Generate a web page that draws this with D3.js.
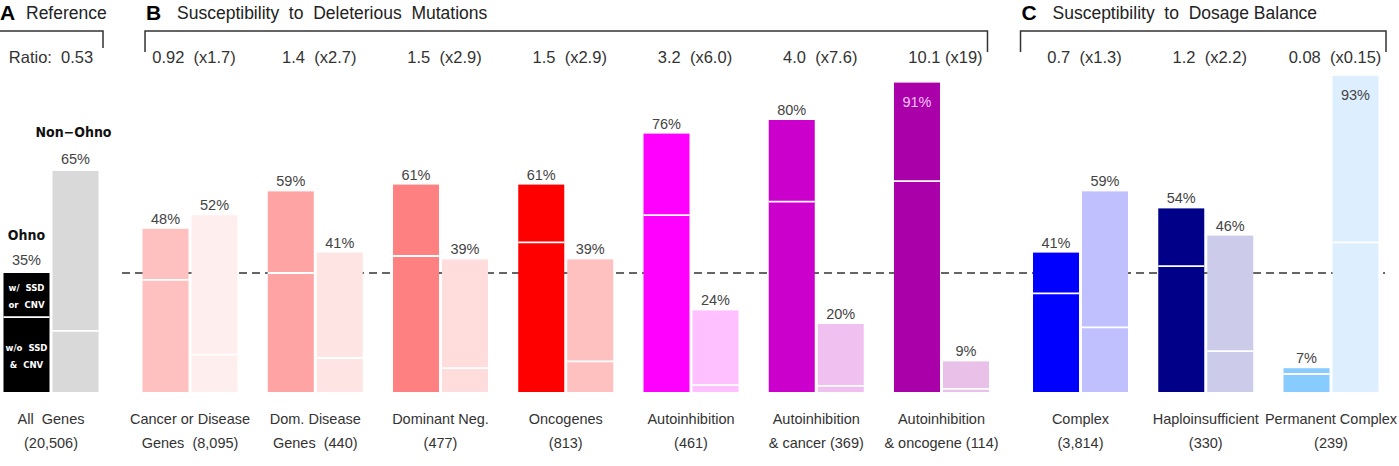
<!DOCTYPE html>
<html>
<head>
<meta charset="utf-8">
<script src="https://cdn.jsdelivr.net/npm/d3@7"></script>
<style>
  body { margin: 0; background: #fff; }
  text { font-family: "Liberation Sans", Arial, sans-serif; white-space: pre; }
</style>
</head>
<body>
<div id="main"></div>
<script>
const W = 1399, H = 466;

// categories (two label lines) and panel of each
const labelTop = ["All  Genes", "Cancer or Disease", "Dom. Disease", "Dominant Neg.", "Oncogenes",
    "Autoinhibition", "Autoinhibition", "Autoinhibition", "Complex", "Haploinsufficient", "Permanent Complex"];
const labelBottom = ["(20,506)", "Genes  (8,095)", "Genes  (440)", "(477)", "(813)",
    "(461)", "& cancer (369)", "& oncogene (114)", "(3,814)", "(330)", "(239)"];
const panelOf = ["A", "B", "B", "B", "B", "B", "B", "B", "C", "C", "C"];
const ratioLabels = ["Ratio:  0.53", "0.92  (x1.7)", "1.4  (x2.7)", "1.5  (x2.9)", "1.5  (x2.9)",
    "3.2  (x6.0)", "4.0  (x7.6)", "10.1 (x19)", "0.7  (x1.3)", "1.2  (x2.2)", "0.08  (x0.15)"];

// percent of Ohno / non-Ohno genes, and the part without SSD & CNV (lower segment)
const ohnoPct = [35, 48, 59, 61, 61, 76, 80, 91, 41, 54, 7];
const nonOhnoPct = [65, 52, 41, 39, 39, 24, 20, 9, 59, 46, 93];
const ohnoNoSsd = [22, 33, 35, 40, 44, 52, 56, 62, 29, 37, 5.3];
const nonOhnoNoSsd = [18, 11, 10, 7, 9, 2, 1.8, 0.9, 19, 12, 44];

const ohnoColors = ["#000000", "#ffc0c0", "#ffa4a4", "#ff8080", "#ff0000", "#ff00ff", "#cc00cc", "#aa00aa", "#0000ff", "#000088", "#88ccff"];
const nonOhnoColors = ["#d9d9d9", "#ffeeee", "#ffe4e4", "#ffdddd", "#ffc0c0", "#ffc0ff", "#f0c0f0", "#e8c0e8", "#c0c0ff", "#ccccea", "#ddeeff"];

const panels = ["A", "B", "C"];
const panelTitles = ["Reference", "Susceptibility  to  Deleterious  Mutations", "Susceptibility  to  Dosage Balance"];
const REF_LINE = 35;

const BAR_W = 46, GAP = 3;
const NARROW = "'Liberation Sans Narrow', 'DejaVu Sans Condensed', sans-serif";

const svg = d3.select("#main").append("svg").attr("width", W).attr("height", H);

// position of a group: index plus an extra gap per panel
const slot = i => i + 0.11 * panels.indexOf(panelOf[i]);
const x = d3.scaleLinear().domain([slot(0), slot(10)]).range([51, 1331]);
const y = d3.scaleLinear().domain([0, 100]).range([392, 52]);

const groups = d3.range(labelTop.length).map(i => ({
    i: i, cx: x(slot(i)),
    ohno: ohnoPct[i], non: nonOhnoPct[i],
    ohnoLow: ohnoNoSsd[i], nonLow: nonOhnoNoSsd[i]
}));

// dashed reference line (behind bars)
svg.append("line")
    .attr("x1", x(slot(1)) - 68).attr("x2", x(slot(10)) + 54)
    .attr("y1", y(REF_LINE)).attr("y2", y(REF_LINE))
    .attr("stroke", "#333").attr("stroke-width", 1.5)
    .attr("stroke-dasharray", "8,5");

const g = svg.selectAll("g.grp").data(groups).enter().append("g").attr("class", "grp");

// ohno bars
g.append("rect")
    .attr("x", d => d.cx - GAP / 2 - BAR_W)
    .attr("y", d => y(d.ohno))
    .attr("width", BAR_W)
    .attr("height", d => y(0) - y(d.ohno))
    .attr("fill", d => ohnoColors[d.i]);
g.append("rect")
    .attr("x", d => d.cx + GAP / 2)
    .attr("y", d => y(d.non))
    .attr("width", BAR_W)
    .attr("height", d => y(0) - y(d.non))
    .attr("fill", d => nonOhnoColors[d.i]);

// white separators between lower and upper segments
g.append("line")
    .attr("x1", d => d.cx - GAP / 2 - BAR_W).attr("x2", d => d.cx - GAP / 2)
    .attr("y1", d => y(d.ohnoLow)).attr("y2", d => y(d.ohnoLow))
    .attr("stroke", "#fff").attr("stroke-width", 1.8);
g.append("line")
    .attr("x1", d => d.cx + GAP / 2).attr("x2", d => d.cx + GAP / 2 + BAR_W)
    .attr("y1", d => y(d.nonLow)).attr("y2", d => y(d.nonLow))
    .attr("stroke", "#fff").attr("stroke-width", 1.8);

// percent labels
const pctFont = 14.5;
g.filter(d => d.i > 0).append("text")
    .attr("x", d => d.cx - GAP / 2 - BAR_W / 2)
    .attr("y", d => d.ohno > 85 ? y(d.ohno) + 24 : y(d.ohno) - 5)
    .attr("text-anchor", "middle")
    .attr("font-size", pctFont)
    .attr("fill", d => d.ohno > 85 ? "#f4c4f4" : "#444")
    .text(d => d.ohno + "%");
g.filter(d => d.i > 0).append("text")
    .attr("x", d => d.cx + GAP / 2 + BAR_W / 2)
    .attr("y", d => d.non > 85 ? y(d.non) + 24 : y(d.non) - 5)
    .attr("text-anchor", "middle")
    .attr("font-size", pctFont)
    .attr("fill", "#444")
    .text(d => d.non + "%");

// reference group labels (panel A)
const a = groups[0];
const aL = a.cx - GAP / 2 - BAR_W / 2, aR = a.cx + GAP / 2 + BAR_W / 2;
svg.append("text").attr("x", aR).attr("y", y(a.non) - 7).attr("text-anchor", "middle")
    .attr("font-size", pctFont).attr("fill", "#444").text(a.non + "%");
svg.append("text").attr("x", aR - 2).attr("y", y(a.non) - 34).attr("text-anchor", "middle")
    .attr("font-size", 14).attr("font-weight", "bold")
    .style("font-family", NARROW)
    .attr("fill", "#111").text("Non\u2212Ohno");
svg.append("text").attr("x", aL).attr("y", y(a.ohno) - 8).attr("text-anchor", "middle")
    .attr("font-size", pctFont).attr("fill", "#444").text(a.ohno + "%");
svg.append("text").attr("x", aL).attr("y", y(a.ohno) - 33).attr("text-anchor", "middle")
    .attr("font-size", 14).attr("font-weight", "bold")
    .style("font-family", NARROW)
    .attr("fill", "#111").text("Ohno");
const inner = [["w/  SSD", "or  CNV"], ["w/o  SSD", "&  CNV"]];
const innerMid = [(a.ohno + a.ohnoLow) / 2, a.ohnoLow / 2];
inner.forEach((lines, k) => {
    lines.forEach((s, j) => {
        svg.append("text").attr("x", aL).attr("y", y(innerMid[k]) + (j === 0 ? -4 : 13))
            .attr("text-anchor", "middle").attr("font-size", 9.5).attr("font-weight", "bold")
            .style("font-family", NARROW)
            .attr("fill", "#fff").text(s);
    });
});

// category labels under bars
g.append("text").attr("x", d => d.cx).attr("y", 424).attr("text-anchor", "middle")
    .attr("font-size", 14.5).attr("fill", "#333").text(d => labelTop[d.i]);
g.append("text").attr("x", d => d.cx).attr("y", 448).attr("text-anchor", "middle")
    .attr("font-size", 14.5).attr("fill", "#333").text(d => labelBottom[d.i]);

// ratio labels
g.append("text").attr("x", d => d.cx + (d.i === 0 ? 0 : 4)).attr("y", 63).attr("text-anchor", "middle")
    .attr("font-size", 16.5).attr("fill", "#333").text(d => ratioLabels[d.i]);

// panel brackets and titles
const bracket = [
    { p: "A", x0: x(slot(0)) - 60, x1: x(slot(0)) + 52, left: false, ylow: 48 },
    { p: "B", x0: x(slot(1)) - 45, x1: x(slot(7)) + 46, left: true, ylow: 52 },
    { p: "C", x0: x(slot(8)) - 60, x1: x(slot(10)) + 55, left: true, ylow: 52 }
];
bracket.forEach((b, k) => {
    const pts = [];
    if (b.left) pts.push([b.x0, b.ylow]);
    pts.push([b.x0, 31], [b.x1, 31], [b.x1, b.ylow]);
    svg.append("path").attr("d", d3.line()(pts))
        .attr("fill", "none").attr("stroke", "#333").attr("stroke-width", 1.5);
    const tx = k === 0 ? 0 : b.x0 + 1;
    svg.append("text").attr("x", tx).attr("y", 20).attr("font-size", 21).attr("font-weight", "bold")
        .attr("fill", "#000").text(b.p);
    svg.append("text").attr("x", tx + (k === 0 ? 26 : 31)).attr("y", 19)
        .attr("font-size", 17.5).attr("fill", "#222").text(panelTitles[k]);
});
</script>
</body>
</html>
